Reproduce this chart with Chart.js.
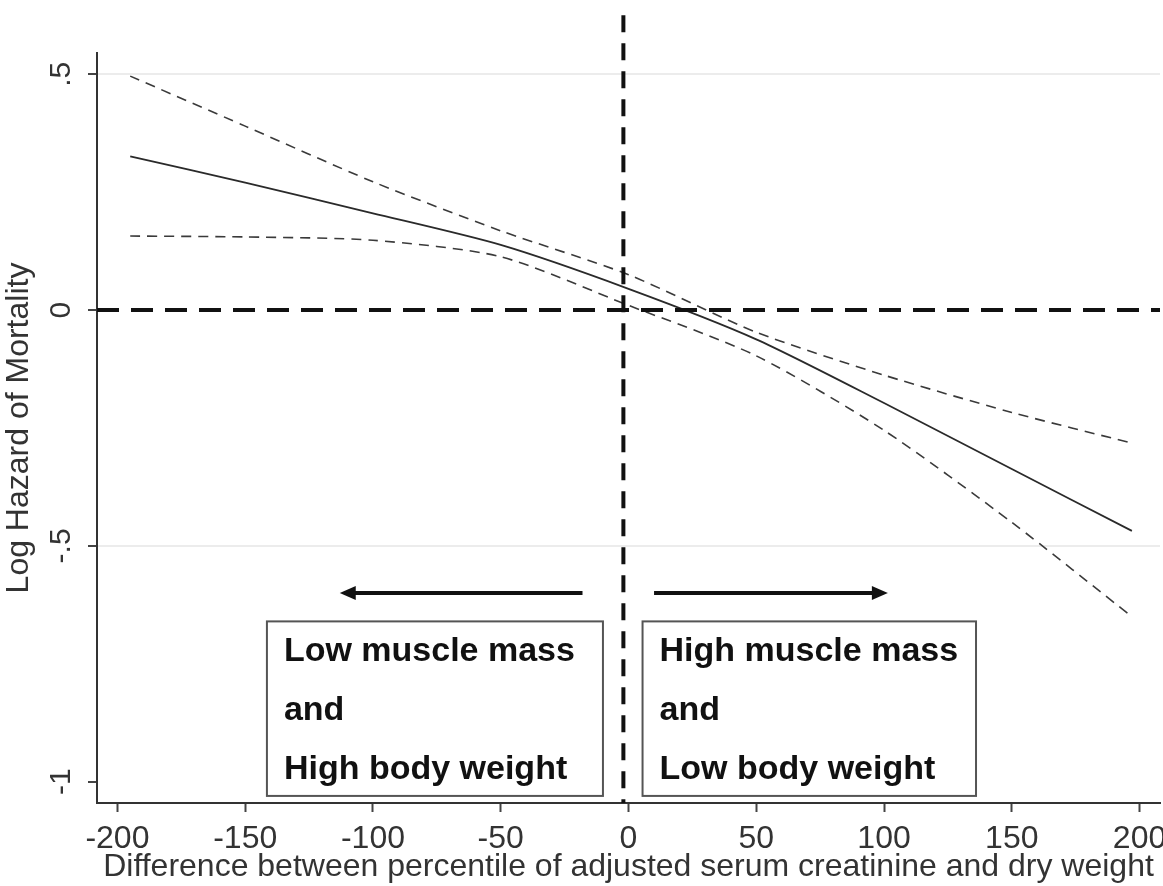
<!DOCTYPE html>
<html>
<head>
<meta charset="utf-8">
<script src="https://cdn.jsdelivr.net/npm/chart.js@4/dist/chart.umd.min.js"></script>
<style>
  html, body { margin: 0; padding: 0; background: #fff; }
  #wrap { width: 1163px; height: 886px; }
</style>
</head>
<body>
<div id="wrap"><canvas id="c" width="1163" height="886"></canvas></div>
<script>
// values
var xVals     = [-195, -150, -100, -50, 0, 50, 100, 150, 197]
var logHazard = [0.326, 0.27, 0.205, 0.138, 0.045, -0.062, -0.197, -0.337, -0.468]
var upperCI   = [0.496, 0.39, 0.272, 0.168, 0.075, -0.047, -0.138, -0.217, -0.282]
var lowerCI   = [0.157, 0.155, 0.148, 0.113, 0.01, -0.097, -0.255, -0.45, -0.65]
var xTicks = [-200, -150, -100, -50, 0, 50, 100, 150, 200]
var yTicks = [-1, -0.5, 0, 0.5]
var yTickLabels = {'-1': '-1', '-0.5': '-.5', '0': '0', '0.5': '.5'}
var vLineX = -2   // vertical reference line, as drawn in the source
var leftBoxText  = ['Low muscle mass', 'and', 'High body weight']
var rightBoxText = ['High muscle mass', 'and', 'Low body weight']

function pts(ys){
	return xVals.map(function(x, i){ return {x: x, y: ys[i]} })
}

var axisText = '#333'
var font = 'Arial, "Liberation Sans", sans-serif'

var annot = {
	id: 'annot',
	afterDatasetsDraw: function(chart){
		var ctx = chart.ctx, xs = chart.scales.x, ys = chart.scales.y, a = chart.chartArea
		var X = function(v){ return xs.getPixelForValue(v) }
		var Y = function(v){ return ys.getPixelForValue(v) }
		ctx.save()
		// reference lines
		ctx.strokeStyle = '#111'
		ctx.lineWidth = 4
		ctx.setLineDash([22, 12])
		ctx.beginPath(); ctx.moveTo(a.left, Y(0)); ctx.lineTo(a.right, Y(0)); ctx.stroke()
		ctx.setLineDash([17, 11])
		ctx.beginPath(); ctx.moveTo(X(vLineX), Y(0.625)); ctx.lineTo(X(vLineX), a.bottom); ctx.stroke()
		ctx.setLineDash([])

		// arrows
		function arrow(x0, x1, yv){
			var y = Y(yv), dir = x1 > x0 ? 1 : -1
			ctx.strokeStyle = '#111'; ctx.fillStyle = '#111'; ctx.lineWidth = 4
			ctx.beginPath(); ctx.moveTo(X(x0), y); ctx.lineTo(X(x1) - dir*12, y); ctx.stroke()
			ctx.beginPath()
			ctx.moveTo(X(x1), y)
			ctx.lineTo(X(x1) - dir*16, y - 7)
			ctx.lineTo(X(x1) - dir*16, y + 7)
			ctx.closePath(); ctx.fill()
		}
		arrow(-18, -113, -0.6)
		arrow(10, 101.5, -0.6)

		// text boxes
		function box(x0, x1, lines){
			var l = X(x0), r = X(x1), t = Y(-0.66), b = Y(-1.03)
			ctx.fillStyle = '#fff'
			ctx.fillRect(l, t, r - l, b - t)
			ctx.strokeStyle = '#555'; ctx.lineWidth = 2
			ctx.strokeRect(l, t, r - l, b - t)
			ctx.fillStyle = '#111'
			ctx.font = 'bold 34px ' + font
			ctx.textAlign = 'left'; ctx.textBaseline = 'alphabetic'
			lines.forEach(function(s, i){ ctx.fillText(s, l + 17, t + 40 + i*59) })
		}
		box(-141.5, -10, leftBoxText)
		box(5.5, 136, rightBoxText)
		ctx.restore()
	},
	afterDraw: function(chart){
		// rotated y tick labels, Stata style
		var ctx = chart.ctx, ys = chart.scales.y
		ctx.save()
		ctx.fillStyle = axisText
		ctx.font = '30px ' + font
		ctx.textAlign = 'center'; ctx.textBaseline = 'middle'
		yTicks.forEach(function(v){
			ctx.save()
			ctx.translate(ys.right - 35, ys.getPixelForValue(v))
			ctx.rotate(-Math.PI/2)
			ctx.fillText(yTickLabels[String(v)], 0, 0)
			ctx.restore()
		})
		ctx.restore()
	}
}

var ciStyle = {borderColor: '#3a3a3a', borderWidth: 1.6, borderDash: [10, 7], pointRadius: 0, fill: false, tension: 0.25}

new Chart(document.getElementById('c'), {
	type: 'line',
	data: {
		datasets: [
			Object.assign({label: 'upper', data: pts(upperCI)}, ciStyle),
			{label: 'log hazard', data: pts(logHazard), borderColor: '#2a2a2a', borderWidth: 1.8, pointRadius: 0, fill: false, tension: 0.25},
			Object.assign({label: 'lower', data: pts(lowerCI)}, ciStyle)
		]
	},
	options: {
		responsive: false,
		animation: false,
		layout: {padding: {left: 0, top: 53, right: 3, bottom: 0}},
		plugins: {legend: {display: false}, tooltip: {enabled: false}},
		scales: {
			x: {
				type: 'linear', min: -208, max: 208,
				afterBuildTicks: function(s){ s.ticks = xTicks.map(function(v){ return {value: v} }) },
				afterFit: function(s){ s.height = 83; s.paddingLeft = 0; s.paddingRight = 0 },
				grid: {display: true, drawOnChartArea: false, tickLength: 9, tickColor: '#444', tickWidth: 2},
				border: {display: true, color: '#333', width: 2},
				ticks: {color: axisText, font: {size: 32, family: font}, padding: 8, maxRotation: 0, autoSkip: false},
				title: {display: true, text: 'Difference between percentile of adjusted serum creatinine and dry weight', color: axisText, font: {size: 32, family: font}, padding: {top: 0, bottom: 0}}
			},
			y: {
				type: 'linear', min: -1.045, max: 0.545,
				afterBuildTicks: function(s){ s.ticks = yTicks.map(function(v){ return {value: v} }) },
				afterFit: function(s){ s.width = 97; s.paddingTop = 0; s.paddingBottom = 0 },
				grid: {
					color: function(c){ return (c.tick && (c.tick.value === 0.5 || c.tick.value === -0.5)) ? '#ececec' : 'rgba(0,0,0,0)' },
					lineWidth: 2, tickLength: 9, tickColor: '#444', tickWidth: 2
				},
				border: {display: true, color: '#333', width: 2},
				ticks: {display: false},
				title: {display: true, text: 'Log Hazard of Mortality', color: axisText, font: {size: 32, family: font}, padding: 0}
			}
		}
	},
	plugins: [annot]
})
</script>
</body>
</html>
